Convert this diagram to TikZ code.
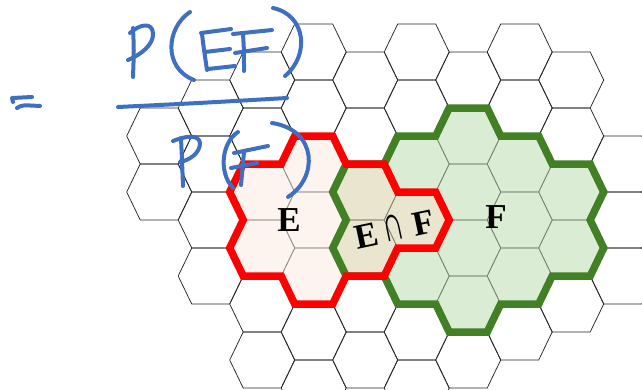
\documentclass[tikz,border=0pt]{standalone}
\usepackage{fontspec}
\usepackage{graphicx}
\setmainfont{Liberation Serif}
\definecolor{ecol}{RGB}{251,235,226}
\definecolor{fcol}{RGB}{190,221,177}
\definecolor{efcol}{RGB}{215,208,168}
\definecolor{redb}{RGB}{255,0,0}
\definecolor{greenb}{RGB}{66,128,38}
\definecolor{handblue}{RGB}{63,111,192}
\begin{document}
\begin{tikzpicture}[x=1pt,y=-1pt,
  gridline/.style={draw=black!85,line width=0.75pt,line join=miter},
  cellfill/.style={fill=#1,fill opacity=0.55},
  border/.style={draw=#1,line width=7.5pt,line join=miter,miter limit=4},
  lbl/.style={font=\fontsize{35}{35}\selectfont\bfseries,inner sep=0pt},
  hand/.style={draw=handblue,line width=4pt,line cap=round,line join=round}]
\useasboundingbox (0,0) rectangle (642,389);
\begin{scope}
\clip (0,0) rectangle (642,389);
% hex grid
\foreach \k/\yy in {-5/136,-5/192,
  -4/108,-4/164,-4/220,-4/276,
  -3/80,-3/136,-3/192,-3/248,-3/304,-3/360,
  -2/52,-2/108,-2/164,-2/220,-2/276,-2/332,-2/388,
  -1/80,-1/136,-1/192,-1/248,-1/304,-1/360,
  0/52,0/108,0/164,0/220,0/276,0/332,0/388,
  1/80,1/136,1/192,1/248,1/304,1/360,
  2/52,2/108,2/164,2/220,2/276,2/332,
  3/80,3/136,3/192,3/248,3/304,
  4/164,4/220,4/276}{
  \pgfmathsetmacro\xx{416.7+51.5*\k}
  \draw[gridline] (\xx-32.5,\yy) -- (\xx-19,\yy-28) -- (\xx+19,\yy-28) -- (\xx+32.5,\yy) -- (\xx+19,\yy+28) -- (\xx-19,\yy+28) -- cycle;
}
% region fills
\foreach \k/\yy/\c in {-3/192/ecol,-3/248/ecol,-2/164/ecol,-2/220/ecol,-2/276/ecol,
  -1/192/efcol,-1/248/efcol,0/220/efcol,
  0/164/fcol,0/276/fcol,1/136/fcol,1/192/fcol,1/248/fcol,1/304/fcol,
  2/164/fcol,2/220/fcol,2/276/fcol,3/192/fcol,3/248/fcol}{
  \pgfmathsetmacro\xx{416.7+51.5*\k}
  \fill[cellfill=\c] (\xx-32.5,\yy) -- (\xx-19,\yy-28) -- (\xx+19,\yy-28) -- (\xx+32.5,\yy) -- (\xx+19,\yy+28) -- (\xx-19,\yy+28) -- cycle;
}
% F border
\draw[border=greenb] (397.7,136) -- (435.7,136) -- (449.2,108) -- (487.2,108) -- (500.7,136) -- (538.7,136) -- (552.2,164) -- (590.2,164) -- (603.7,192) -- (590.2,220) -- (603.7,248) -- (590.2,276) -- (552.2,276) -- (538.7,304) -- (500.7,304) -- (487.2,332) -- (449.2,332) -- (435.7,304) -- (397.7,304) -- (384.2,276) -- (346.2,276) -- (332.7,248) -- (346.2,220) -- (332.7,192) -- (346.2,164) -- (384.2,164) -- cycle;
% E border
\draw[border=redb] (243.2,164) -- (281.2,164) -- (294.7,136) -- (332.7,136) -- (346.2,164) -- (384.2,164) -- (397.7,192) -- (435.7,192) -- (449.2,220) -- (435.7,248) -- (397.7,248) -- (384.2,276) -- (346.2,276) -- (332.7,304) -- (294.7,304) -- (281.2,276) -- (243.2,276) -- (229.7,248) -- (243.2,220) -- (229.7,192) -- cycle;
\end{scope}
% labels
\node[lbl] (eLabel) at (289,220) {E};
\node[lbl] (fLabel) at (496,217) {F};
\node[lbl,rotate=12] (efLabel) at (394,228) {E\hspace{5pt}\raisebox{0.5pt}{\scalebox{0.85}[1.45]{\mdseries ∩}}\hspace{9pt}F};
% handwriting
\draw[hand] (13,102) -- (12,98) -- (32,97);
\draw[hand] (17,108) .. controls (22,105) .. (40,106);
\draw[hand] (133,28) .. controls (134,50) .. (133,77);
\draw[hand] (130,33) .. controls (140,24) and (152,22) .. (153,33) .. controls (154,45) and (140,55) .. (128,60);
\draw[hand] (190,12) .. controls (166,28) and (163,68) .. (194,80);
\draw[hand] (202,34) .. controls (204,50) .. (207,70);
\draw[hand] (201,33) -- (231,29);
\draw[hand] (205,52) -- (230,49);
\draw[hand] (208,69) -- (235,66);
\draw[hand] (233,34) -- (272,30);
\draw[hand] (243,34) .. controls (244,50) .. (244,71);
\draw[hand] (235,53) -- (267,48);
\draw[hand] (273,8) .. controls (306,15) and (310,55) .. (285,76);
\draw[hand] (118,107) .. controls (200,103) .. (287,98);
\draw[hand] (181,138) .. controls (182,160) .. (183,186);
\draw[hand] (173,141) .. controls (185,136) and (199,134) .. (200,143) .. controls (200,153) and (190,160) .. (180,162);
\draw[hand] (238,132) .. controls (222,142) and (218,172) .. (233,188);
\draw[hand] (234,153) -- (268,146);
\draw[hand] (244,152) .. controls (242,168) .. (241,185);
\draw[hand] (231,168) -- (257,163);
\draw[hand] (272,123) .. controls (318,130) and (318,178) .. (288,197);
\end{tikzpicture}
\end{document}
